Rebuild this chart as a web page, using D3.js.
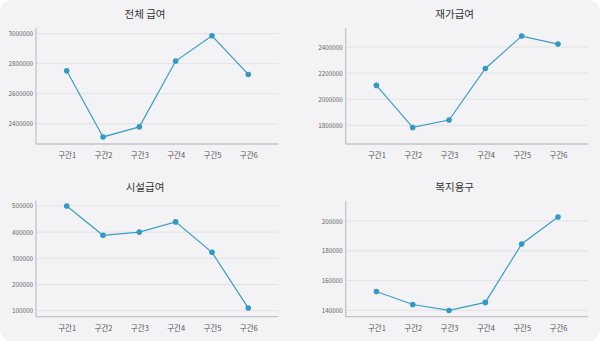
<!DOCTYPE html>
<html><head><meta charset="utf-8">
<script src="https://cdn.jsdelivr.net/npm/d3@7"></script>
<style>
html,body{margin:0;padding:0;background:#fff;}
svg{display:block;}
</style></head>
<body><svg id="c" width="600" height="341"></svg>
<script>
const categories = ["구간1","구간2","구간3","구간4","구간5","구간6"];
const titles = ["전체 급여","재가급여","시설급여","복지용구"];
const totalValues = [2752000, 2312000, 2379000, 2817000, 2985000, 2728000];
const homeValues = [2106000, 1784000, 1841000, 2236000, 2484000, 2423000];
const facilityValues = [500000, 388000, 400000, 439000, 323000, 110000];
const welfareValues = [152700, 144000, 140000, 145400, 184600, 202700];
const totalTicks = [2400000, 2600000, 2800000, 3000000];
const homeTicks = [1800000, 2000000, 2200000, 2400000];
const facilityTicks = [100000, 200000, 300000, 400000, 500000];
const welfareTicks = [140000, 160000, 180000, 200000];
const totalDomain = [2265000, 3037000];
const homeDomain = [1657000, 2546000];
const facilityDomain = [77000, 520000];
const welfareDomain = [135800, 213600];

const panels = [
  {title: titles[0], values: totalValues, ticks: totalTicks, domain: totalDomain, ox: 0, oy: 0},
  {title: titles[1], values: homeValues, ticks: homeTicks, domain: homeDomain, ox: 309.7, oy: 0},
  {title: titles[2], values: facilityValues, ticks: facilityTicks, domain: facilityDomain, ox: 0, oy: 172.7},
  {title: titles[3], values: welfareValues, ticks: welfareTicks, domain: welfareDomain, ox: 309.7, oy: 172.7}
];

const svg = d3.select("#c");
svg.append("rect").attr("x",0).attr("y",0).attr("width",600).attr("height",341)
  .attr("rx",11).attr("ry",11).attr("fill","#f3f3f5");

const font = "'Noto Sans CJK KR', 'Noto Sans', sans-serif";
const lineColor = "#3d9dc6";

panels.forEach(p => {
  const g = svg.append("g").attr("transform", `translate(${p.ox},${p.oy})`);
  const left = 36, right = 278.3, top = 28, bottom = 144;
  const x = d3.scalePoint().domain(categories).range([66.7, 248.3]);
  const y = d3.scaleLinear().domain(p.domain).range([bottom, top]);

  g.append("g").selectAll("line").data(p.ticks).join("line")
    .attr("x1", left).attr("x2", right)
    .attr("y1", d => y(d)).attr("y2", d => y(d))
    .attr("stroke", "#e2e2e6").attr("stroke-width", 1);

  const ya = g.append("g").attr("transform", `translate(${left},0)`)
    .call(d3.axisLeft(y).tickValues(p.ticks).tickSize(0).tickPadding(3).tickFormat(d3.format("d")));
  ya.select(".domain").remove();
  ya.selectAll("text").attr("font-family", font).attr("font-size", 6.3).attr("fill", "#666");

  const xa = g.append("g").attr("transform", `translate(0,${bottom})`)
    .call(d3.axisBottom(x).tickSize(0).tickPadding(9));
  xa.select(".domain").remove();
  xa.selectAll("text").attr("font-family", font).attr("font-size", 7.5).attr("fill", "#555");

  g.append("line").attr("x1", left).attr("x2", left).attr("y1", top).attr("y2", bottom)
    .attr("stroke", "#c4c4c8").attr("stroke-width", 1.3);
  g.append("line").attr("x1", left).attr("x2", right).attr("y1", bottom).attr("y2", bottom)
    .attr("stroke", "#c4c4c8").attr("stroke-width", 1.3);

  const line = d3.line().x((d,i) => x(categories[i])).y(d => y(d));
  g.append("path").datum(p.values).attr("d", line)
    .attr("fill", "none").attr("stroke", lineColor).attr("stroke-width", 1.2);
  g.append("g").selectAll("circle").data(p.values).join("circle")
    .attr("cx", (d,i) => x(categories[i])).attr("cy", d => y(d)).attr("r", 2.8)
    .attr("fill", "#3399c4");

  g.append("text").attr("x", 145).attr("y", 18).attr("text-anchor", "middle")
    .attr("font-family", font).attr("font-size", 10.5).attr("font-weight", 400)
    .attr("fill", "#333").text(p.title);
});
</script>
</body></html>
